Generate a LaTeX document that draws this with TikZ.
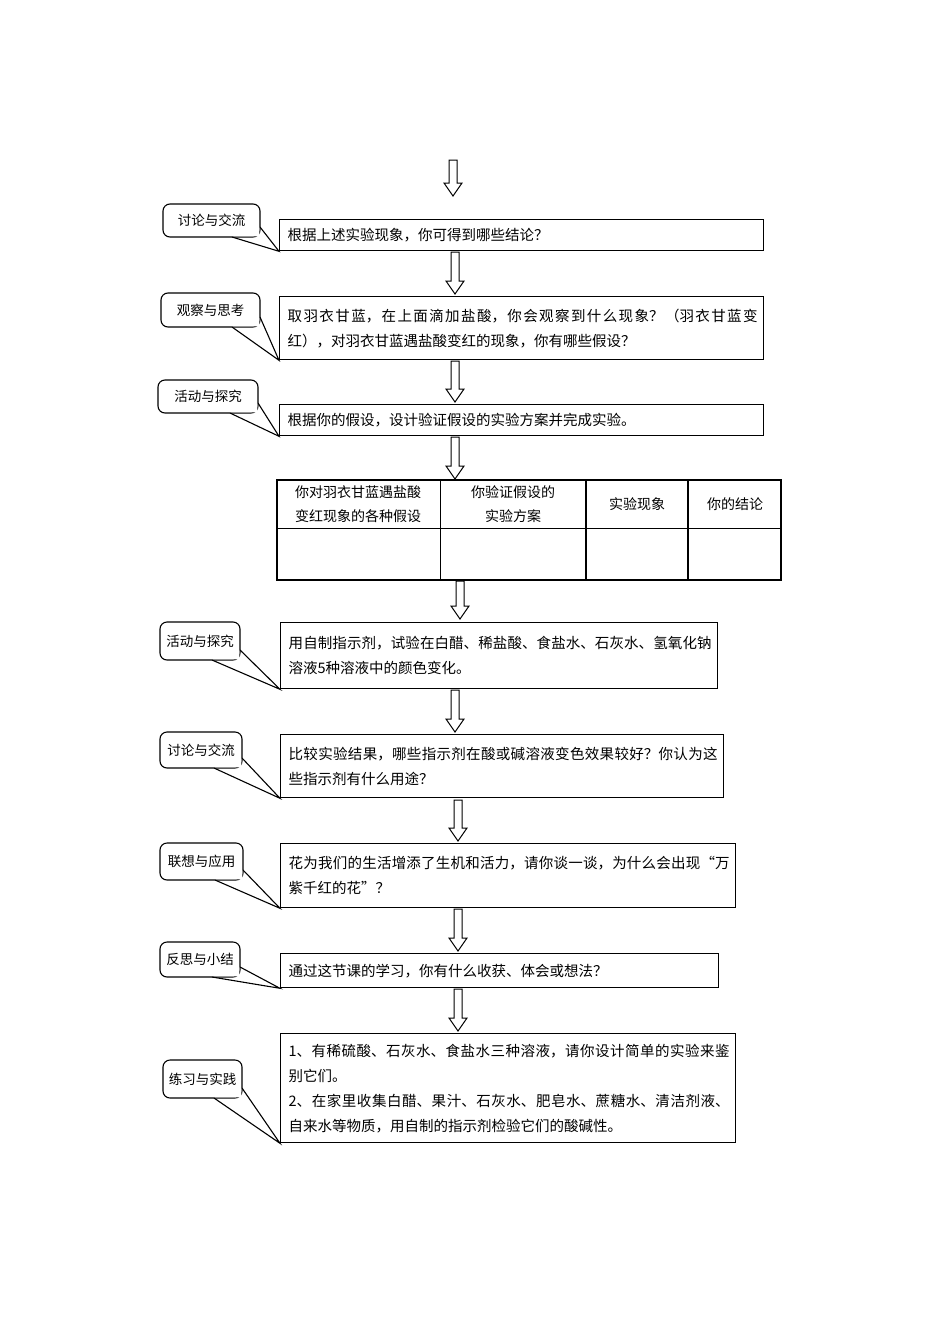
\documentclass[tikz,border=0pt]{standalone}
\usepackage{fontspec}
\setmainfont{Noto Sans CJK SC}
\XeTeXlinebreaklocale "zh"
\XeTeXlinebreakskip=0pt plus 1pt
\begin{document}
\begin{tikzpicture}[x=1pt,y=-1pt,
  box/.style={draw,line width=1.3pt,anchor=north west,inner sep=0pt,align=left},
  call/.style={draw,line width=1.1pt,rounded corners=7pt,inner sep=0pt,
    font=\fontsize{13.5}{16}\selectfont},
  hd/.style={align=center,font=\fontsize{14}{24}\selectfont}]
\useasboundingbox (0,0) rectangle (950,1344);
\newcommand\harrow[3]{%
  \draw[line width=1pt,fill=white] (#1-4,#2) -- (#1+4,#2) -- (#1+4,#3-13) -- (#1+9,#3-13)
   -- (#1,#3) -- (#1-9,#3-13) -- (#1-4,#3-13) -- cycle;}
\newcommand\mybox[6]{% name, x1,y1,x2,y2,text
  \node[box,minimum width=#4-#2,minimum height=#5-#3] (#1) at (#2,#3)
   {\hspace*{8pt}\parbox{\dimexpr #4pt-#2pt-14pt\relax}{\fontsize{14.5}{25}\selectfont\noindent #6}\hspace*{6pt}};}
\newcommand\mycall[6]{% name x1 y1 x2 y2 text; tail to (#1b.south west)
  \node[call,minimum width=#4-#2,minimum height=#5-#3] (#1c) at ({(#2+#4)/2},{(#3+#5)/2}) {#6};
  \fill[white] (#4-28,#5-0.6) -- (#4-0.6,#5-10) -- (#4-0.6,#5-0.6) -- cycle;
  \draw[line width=1.1pt] (#4-28,#5) -- (#1b.south west) -- (#4,#5-10);}
\harrow{453}{160}{196}
\mybox{b1b}{279}{219}{763}{250}{根据上述实验现象，你可得到哪些结论？}
\mycall{b1}{163}{204}{260}{237}{讨论与交流}
\harrow{455}{252}{294}
\mybox{b2b}{279}{296}{763}{359}{取羽衣甘蓝，在上面滴加盐酸，你会观察到什么现象？（羽衣甘蓝变红），对羽衣甘蓝遇盐酸变红的现象，你有哪些假设？}
\mycall{b2}{161}{293}{260}{327}{观察与思考}
\harrow{455}{361}{402}
\mybox{b3b}{279}{404}{763}{435}{根据你的假设，设计验证假设的实验方案并完成实验。}
\mycall{b3}{158}{380}{258}{413}{活动与探究}
\harrow{455}{437}{479}
% table
\draw[line width=1.2pt] (277,480) rectangle (781,580);
\draw[line width=0.8pt] (277,528) -- (781,528);
\draw[line width=0.8pt] (440,480) -- (440,580);
\draw[line width=1.2pt] (586,480) -- (586,580) (688,480) -- (688,580);
\node[hd] (t1) at (358,504) {你对羽衣甘蓝遇盐酸\\变红现象的各种假设};
\node[hd] (t2) at (513,504) {你验证假设的\\实验方案};
\node[hd] (t3) at (637,504) {实验现象};
\node[hd] (t4) at (735,504) {你的结论};
\harrow{460}{581}{619}
\mybox{b5b}{280}{622}{717}{688}{用自制指示剂，试验在白醋、稀盐酸、食盐水、石灰水、氢氧化钠溶液5种溶液中的颜色变化。}
\mycall{b5}{160}{622}{240}{660}{活动与探究}
\harrow{455}{690}{732}
\mybox{b6b}{280}{734}{723}{797}{比较实验结果，哪些指示剂在酸或碱溶液变色效果较好？你认为这些指示剂有什么用途？}
\mycall{b6}{160}{732}{242}{768}{讨论与交流}
\harrow{458}{800}{841}
\mybox{b7b}{280}{843}{735}{907}{花为我们的生活增添了生机和活力，请你谈一谈，为什么会出现“万紫千红的花”？}
\mycall{b7}{160}{843}{243}{880}{联想与应用}
\harrow{458}{909}{951}
\mybox{b8b}{280}{953}{718}{987}{通过这节课的学习，你有什么收获、体会或想法？}
\mycall{b8}{160}{942}{240}{977}{反思与小结}
\harrow{458}{989}{1031}
\mybox{b9b}{280}{1033}{735}{1142}{1、有稀硫酸、石灰水、食盐水三种溶液，请你设计简单的实验来鉴别它们。\\2、在家里收集白醋、果汁、石灰水、肥皂水、蔗糖水、清洁剂液、自来水等物质，用自制的指示剂检验它们的酸碱性。}
\mycall{b9}{163}{1060}{242}{1098}{练习与实践}
\end{tikzpicture}
\end{document}
